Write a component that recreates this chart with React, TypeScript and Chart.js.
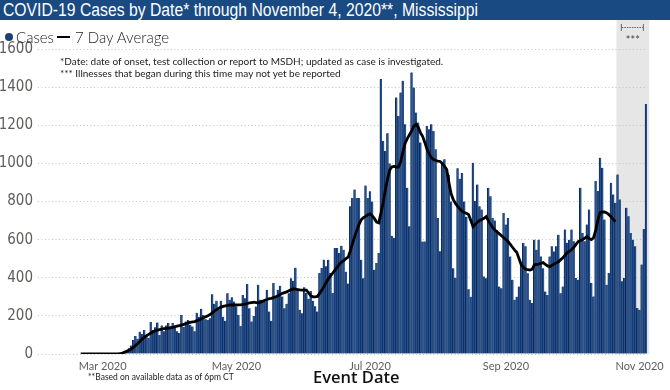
import React, { useEffect, useLayoutEffect, useRef } from "react";
import { Chart, registerables } from "chart.js";

Chart.register(...registerables);

// ---------- data ----------
const axisStart = "2020-02-01";
const axisDays = 278; // Feb 1 .. Nov 4, 2020
const DAY = 86400000;
const categories: string[] = Array.from({ length: axisDays }, (_, i) =>
  new Date(Date.parse(axisStart + "T00:00:00Z") + i * DAY).toISOString().slice(0, 10)
);

const tickDates = ["2020-03-01", "2020-05-01", "2020-07-01", "2020-09-01", "2020-11-01"];
const tickLabels = ["Mar 2020", "May 2020", "Jul 2020", "Sep 2020", "Nov 2020"];
const yTicks = [0, 200, 400, 600, 800, 1000, 1200, 1400, 1600];

const casesStart = "2020-03-09";
const cases = [
  // Mar 9-31
  3, 8, 12, 22, 30, 45, 74, 95, 80, 117, 105, 126, 100, 85, 168, 126, 140, 165, 100, 150, 120, 150, 163,
  // Apr
  145, 163, 150, 120, 110, 205, 142, 170, 179, 153, 144, 120, 216, 196, 237, 205, 182, 179, 187, 314,
  263, 279, 232, 279, 196, 174, 319, 284, 298, 275,
  // May
  249, 205, 147, 310, 293, 367, 240, 170, 200, 249, 363, 284, 284, 275, 337, 223, 174, 372, 302, 337,
  358, 302, 240, 263, 319, 398, 384, 453, 337, 232, 214,
  // Jun
  350, 320, 290, 331, 280, 250, 223, 425, 451, 495, 460, 495, 425, 320, 556, 556, 530, 568, 547, 432,
  370, 775, 819, 863, 819, 819, 495, 397, 884, 819,
  // Jul
  854, 800, 442, 477, 530, 1442, 1118, 1065, 1158, 1000, 620, 610, 1346, 1249, 1372, 1433, 1205, 872,
  670, 1477, 1398, 1267, 1214, 1110, 590, 590, 1196, 1179, 1205, 1170, 1074,
  // Aug
  714, 539, 1003, 1021, 968, 940, 800, 450, 400, 975, 920, 950, 800, 720, 340, 300, 1003, 802, 889,
  775, 758, 407, 398, 872, 828, 714, 700, 650, 354, 345, 740,
  // Sep
  679, 714, 512, 389, 284, 300, 354, 477, 582, 565, 424, 284, 267, 600, 547, 600, 512, 450, 328, 310,
  512, 565, 538, 565, 626, 319, 354, 653, 583, 600,
  // Oct
  653, 592, 399, 390, 872, 635, 592, 679, 758, 372, 302, 907, 855, 1030, 977, 705, 363, 425, 898, 837,
  793, 942, 811, 381, 399, 767, 723, 635, 600, 565, 241,
  // Nov 1-4
  232, 469, 656, 1311,
];

const avgStart = "2020-02-20";
const avg7 = [
  // Feb 20 - Mar 8
  0, 0, 0, 0, 0, 0, 0, 0, 0, 0, 0, 0, 0, 0, 0, 0, 0, 0,
  // Mar 9-31
  2, 4, 10, 14, 19, 26, 33, 45, 55, 66, 78, 88, 96, 103, 110, 117, 121, 125, 128, 131, 133, 135, 136,
  // Apr
  137, 140, 143, 146, 149, 152, 155, 160, 163, 166, 168, 170, 175, 178, 185, 190, 195, 200, 207, 215,
  225, 233, 240, 246, 250, 253, 255, 257, 257, 257,
  // May
  257, 258, 258, 260, 262, 265, 268, 270, 272, 270, 268, 272, 276, 282, 286, 290, 292, 296, 300, 305,
  312, 318, 322, 326, 332, 338, 342, 340, 338, 336, 335,
  // Jun
  335, 335, 320, 305, 300, 300, 302, 318, 335, 355, 375, 395, 410, 425, 440, 455, 470, 482, 490, 500,
  508, 540, 580, 616, 650, 680, 705, 715, 722, 730,
  // Jul
  735, 725, 710, 692, 688, 740, 795, 860, 920, 965, 982, 984, 980, 980, 1010, 1060, 1105, 1130, 1150,
  1170, 1195, 1205, 1190, 1160, 1142, 1110, 1074, 1050, 1030, 1020, 1015,
  // Aug
  1012, 1010, 1000, 985, 968, 900, 840, 810, 790, 774, 760, 750, 742, 738, 731, 700, 668, 680, 692,
  700, 705, 712, 721, 700, 680, 663, 650, 640, 630, 620, 610,
  // Sep
  600, 590, 575, 560, 545, 532, 500, 468, 455, 445, 442, 440, 445, 468, 470, 472, 475, 479, 470, 462,
  458, 465, 472, 478, 484, 495, 505, 518, 532, 540,
  // Oct 1-21
  547, 560, 575, 589, 595, 600, 608, 616, 605, 600, 610, 650, 705, 742, 745, 745, 740, 731, 720, 705, 695,
];

const shadeStart = "2020-10-21";

// ---------- helpers ----------
const alignSeries = (start: string, values: number[]) => {
  const s = categories.indexOf(start);
  return categories.map((_, i) => {
    const k = i - s;
    return k >= 0 && k < values.length ? values[k] : null;
  });
};

const tickIdx = tickDates.map((d) => categories.indexOf(d));

const TEXT_FONT = "Lato, 'Open Sans', 'Noto Sans', sans-serif";
const TICK_FONT = "'DejaVu Sans Condensed', 'Liberation Sans', sans-serif";

const shadePlugin = {
  id: "shade",
  beforeDraw(chart: any) {
    const { ctx, chartArea, scales } = chart;
    const xs = scales.x;
    const x0 = xs.getPixelForValue(categories.indexOf(shadeStart)) + 1;
    const x1 = chartArea.right + 2;
    ctx.save();
    ctx.fillStyle = "#e6e6e6";
    ctx.fillRect(x0, 20, x1 - x0, chartArea.bottom - 20);
    ctx.restore();
  },
  afterDraw(chart: any) {
    const { ctx, chartArea, scales } = chart;
    const xs = scales.x;
    const x0 = xs.getPixelForValue(categories.indexOf(shadeStart)) + 1;
    const x1 = chartArea.right + 2;
    const cx = (x0 + x1) / 2;
    ctx.save();
    ctx.strokeStyle = "#666";
    ctx.lineWidth = 1;
    ctx.beginPath();
    ctx.moveTo(cx - 11.5, 24);
    ctx.lineTo(cx - 11.5, 31);
    ctx.moveTo(cx + 10.5, 24);
    ctx.lineTo(cx + 10.5, 31);
    ctx.stroke();
    ctx.setLineDash([1.5, 1]);
    ctx.beginPath();
    ctx.moveTo(cx - 11, 27.5);
    ctx.lineTo(cx + 10, 27.5);
    ctx.stroke();
    ctx.setLineDash([]);
    ctx.fillStyle = "#444";
    ctx.font = "11px " + TEXT_FONT;
    ctx.textAlign = "center";
    ctx.textBaseline = "middle";
    ctx.fillText("***", cx, 40);
    ctx.restore();
  },
};

// Text that is horizontally fitted to a target width (to mimic the condensed original font)
function FitText(props: { width: number; style: React.CSSProperties; children: string }) {
  const ref = useRef<HTMLDivElement | null>(null);
  useLayoutEffect(() => {
    const el = ref.current;
    if (!el) return;
    el.style.transform = "none";
    const w = el.getBoundingClientRect().width;
    if (w > 0) el.style.transform = `scaleX(${props.width / w})`;
  }, [props.width]);
  return (
    <div ref={ref} style={{ position: "absolute", whiteSpace: "nowrap", transformOrigin: "0 0", ...props.style }}>
      {props.children}
    </div>
  );
}

export default function App() {
  const ref = useRef<HTMLCanvasElement | null>(null);

  useEffect(() => {
    if (!ref.current) return;
    const chart = new Chart(ref.current, {
      type: "bar",
      data: {
        labels: categories,
        datasets: [
          {
            type: "line",
            label: "7 Day Average",
            data: alignSeries(avgStart, avg7),
            borderColor: "#000000",
            borderWidth: 2.8,
            pointRadius: 0,
            fill: false,
            tension: 0,
            order: 0,
          } as any,
          {
            type: "bar",
            label: "Cases",
            data: alignSeries(casesStart, cases),
            backgroundColor: "#24518f",
            borderColor: "#0a1f4a",
            borderWidth: { left: 0.8, right: 0, top: 0, bottom: 0 },
            borderSkipped: false,
            categoryPercentage: 1,
            barPercentage: 1,
            order: 1,
          } as any,
        ],
      },
      options: {
        animation: false,
        responsive: false,
        maintainAspectRatio: false,
        events: [],
        layout: { padding: { top: 49, right: 20, left: 0, bottom: 0 } },
        plugins: {
          legend: { display: false },
          tooltip: { enabled: false },
          title: { display: false },
        },
        scales: {
          x: {
            type: "category",
            grid: { display: false, drawTicks: false },
            border: { display: false },
            ticks: {
              autoSkip: false,
              maxRotation: 0,
              minRotation: 0,
              padding: 6,
              color: "#605e5c",
              font: { family: TEXT_FONT, size: 11 },
              callback: (value: any) => {
                const j = tickIdx.indexOf(Number(value));
                return j >= 0 ? tickLabels[j] : "";
              },
            },
            afterBuildTicks: (scale: any) => {
              scale.ticks = tickIdx.map((v) => ({ value: v }));
            },
            afterFit: (scale: any) => {
              scale.height = 36;
            },
          },
          y: {
            min: 0,
            max: 1600,
            grid: { color: "#c4c4c4", lineWidth: 1, drawTicks: false },
            border: { display: false, dash: [1, 2.5] },
            ticks: {
              padding: 5,
              color: "#605e5c",
              font: { family: TICK_FONT, size: 15 },
              callback: (v: any) => String(v),
            },
            afterBuildTicks: (scale: any) => {
              scale.ticks = yTicks.map((v) => ({ value: v }));
            },
            afterFit: (scale: any) => {
              scale.width = 38;
            },
          },
        },
      },
      plugins: [shadePlugin],
    });
    return () => chart.destroy();
  }, []);

  const abs = (s: React.CSSProperties): React.CSSProperties => ({ position: "absolute", whiteSpace: "nowrap", ...s });

  return (
    <div style={{ position: "absolute", left: 0, top: 0, width: 670, height: 390, background: "#fff", overflow: "hidden" }}>
      <canvas ref={ref} width={670} height={390} style={{ position: "absolute", left: 0, top: 0, width: 670, height: 390 }} />
      <div style={abs({ left: 0, top: 0, width: 670, height: 20, background: "#1a4a82" })} />
      <FitText
        width={475}
        style={{ left: 3, top: 0, height: 20, lineHeight: "20px", color: "#fff", fontFamily: "'Liberation Sans', Arial, sans-serif", fontSize: 18 }}
      >
        COVID-19 Cases by Date* through November 4, 2020**, Mississippi
      </FitText>
      {/* legend */}
      <div style={abs({ left: 5, top: 33, width: 8, height: 8, borderRadius: 4, background: "#1a3f7a" })} />
      <div style={abs({ left: 16, top: 28, lineHeight: "18px", fontFamily: TEXT_FONT, fontWeight: 300, fontSize: 15, color: "#252423" })}>
        Cases
      </div>
      <div style={abs({ left: 57, top: 35.5, width: 13, height: 2.5, background: "#000" })} />
      <div style={abs({ left: 75, top: 28, lineHeight: "18px", fontFamily: TEXT_FONT, fontWeight: 300, fontSize: 15, color: "#252423" })}>
        7 Day Average
      </div>
      {/* notes */}
      <div style={abs({ left: 60, top: 55, lineHeight: "12px", fontFamily: TEXT_FONT, fontSize: 10, color: "#222" })}>
        *Date: date of onset, test collection or report to MSDH; updated as case is investigated.
      </div>
      <div style={abs({ left: 60, top: 67, lineHeight: "12px", fontFamily: TEXT_FONT, fontSize: 10, color: "#222" })}>
        *** Illnesses that began during this time may not yet be reported
      </div>
      <div style={abs({ left: 88, top: 371, lineHeight: "12px", fontFamily: TEXT_FONT, fontSize: 8.5, color: "#222" })}>
        **Based on available data as of 6pm CT
      </div>
      <div style={abs({ left: 313, top: 368, lineHeight: "18px", fontFamily: "'Open Sans', Lato, sans-serif", fontWeight: 600, fontSize: 16.5, color: "#111" })}>
        Event Date
      </div>
    </div>
  );
}
